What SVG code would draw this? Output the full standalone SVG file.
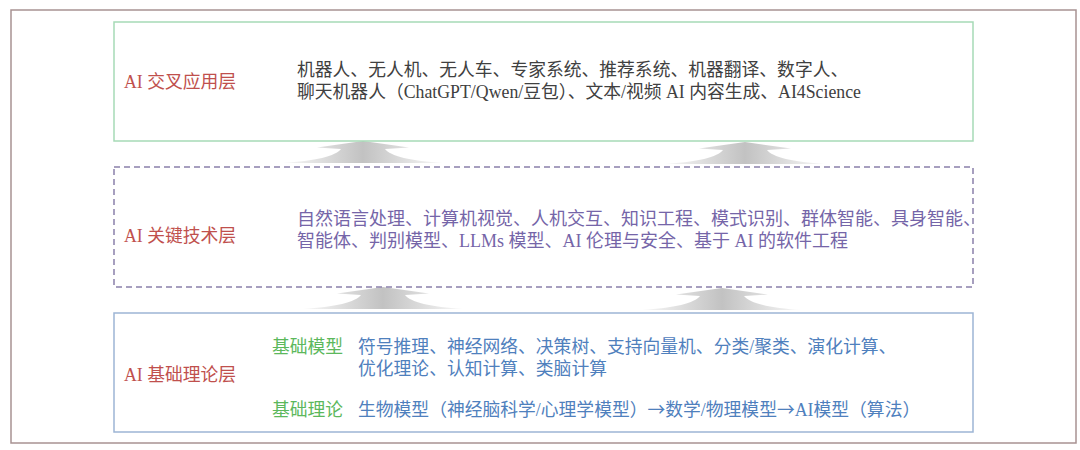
<svg xmlns="http://www.w3.org/2000/svg" width="1080" height="450" viewBox="0 0 1080 450">
<defs>
<linearGradient id="ag" x1="0" y1="0" x2="1" y2="0">
<stop offset="0" stop-color="#f8f8f8"/>
<stop offset="0.5" stop-color="#c2c2c2"/>
<stop offset="1" stop-color="#f8f8f8"/>
</linearGradient>
<path id="arr" d="M0,0 L46,6.5 L22,8 C27,15 48,20 80,22 L-80,22 C-48,20 -27,15 -22,8 L-46,6.5 Z"/>
</defs>
<style>
.lbl{font-family:"Liberation Serif","Noto Sans CJK SC",serif;font-size:17.8px;fill:#c0504d}
.t{font-family:"Liberation Serif","Noto Sans CJK SC",serif;font-size:17.8px}
.c{font-family:"Noto Sans CJK SC",sans-serif}
.top{fill:#404040}
.mid{fill:#7565a8;font-size:18px}
.bot{fill:#4f80bd}
.grn{fill:#5cb85c}
.box{fill:#ffffff;stroke-width:1.5}
.arrow{fill:url(#ag)}
</style>
<rect x="0" y="0" width="1080" height="450" fill="#ffffff"/>
<rect x="11" y="10" width="1065" height="433" fill="none" stroke="#a89292" stroke-width="1.5"/>

<g id="connectors">
<use href="#arr" class="arrow" transform="translate(363,141)"/>
<use href="#arr" class="arrow" transform="translate(745,142)"/>
<use href="#arr" class="arrow" transform="translate(383,287)"/>
<use href="#arr" class="arrow" transform="translate(722,288)"/>
</g>

<g id="layer-application">
<rect class="box" x="114" y="22" width="859" height="119" stroke="#a6dab6"/>
<text class="lbl" x="124" y="88">AI 交叉应用层</text>
<text class="t top" x="297" y="76">机器人、无人机、无人车、专家系统、推荐系统、机器翻译、数字人、</text>
<text class="t top" x="297" y="98">聊天机器人（ChatGPT/Qwen/豆包）、文本/视频 AI 内容生成、AI4Science</text>
</g>

<g id="layer-key-tech">
<rect class="box" x="114" y="167" width="859" height="120" stroke="#8a80aa" stroke-dasharray="6,4"/>
<text class="lbl" x="124" y="242">AI 关键技术层</text>
<text class="t mid" x="297" y="225">自然语言处理、计算机视觉、人机交互、知识工程、模式识别、群体智能、具身智能、</text>
<text class="t mid" x="297" y="247">智能体、判别模型、LLMs 模型、AI 伦理与安全、基于 AI 的软件工程</text>
</g>

<g id="layer-foundation">
<rect class="box" x="114" y="313" width="859" height="119" stroke="#9db5d5"/>
<text class="lbl" x="124" y="381">AI 基础理论层</text>
<text class="t grn" x="272" y="353">基础模型</text>
<text class="t bot" x="358" y="353">符号推理、神经网络、决策树、支持向量机、分类/聚类、演化计算、</text>
<text class="t bot" x="358" y="375">优化理论、认知计算、类脑计算</text>
<text class="t grn" x="272" y="416">基础理论</text>
<text class="t bot" x="358" y="416">生物模型<tspan class="c">（</tspan>神经脑科学/心理学模型<tspan class="c">）→</tspan>数学/物理模型<tspan class="c">→</tspan>AI模型<tspan class="c">（</tspan>算法<tspan class="c">）</tspan></text>
</g>
</svg>
